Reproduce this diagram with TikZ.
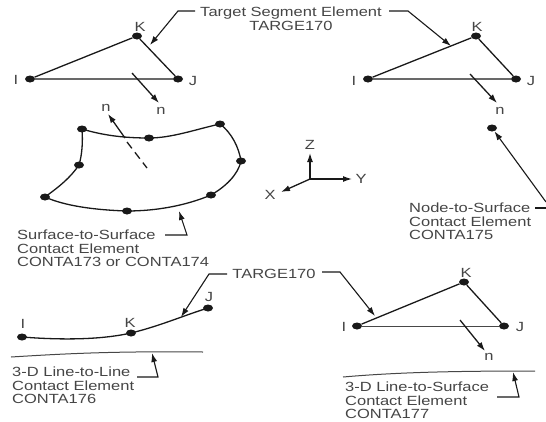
\documentclass[tikz,border=0pt]{standalone}
\usepackage{fontspec}
\setmainfont[FakeStretch=1.24]{Liberation Sans}
\usetikzlibrary{arrows.meta,shapes.geometric}
\definecolor{ink}{gray}{0.1}
\definecolor{txt}{gray}{0.27}
\tikzset{
  dot/.style={ellipse,fill=ink,draw=none,minimum width=10pt,minimum height=7pt,inner sep=0pt},
  lab/.style={text=txt,font=\fontsize{13.3}{13.2}\selectfont,inner sep=0pt},
  para/.style={lab,align=left,anchor=north west},
  ln/.style={draw=ink,line width=1.3pt},
  thinln/.style={draw=ink!80,line width=1pt},
  arrow/.style={ln,-{Latex[length=9pt,width=6pt]}},
  lead/.style={draw=ink,line width=1.1pt,-{Latex[length=9pt,width=6pt]}}
}
\begin{document}
\begin{tikzpicture}[x=1pt,y=-1pt]
\useasboundingbox (0,0) rectangle (546,421);
% top left triangle
\node[dot] (i1) at (30,79) {};
\node[dot] (k1) at (137,36) {};
\node[dot] (j1) at (178,79) {};
\draw[ln] (i1)--(k1)--(j1)--(i1);
\node[lab] (li1) at (16,80) {I};
\node[lab] (lk1) at (140,27) {K};
\node[lab] (lj1) at (193,81) {J};
\coordinate (a1) at (132,73); \coordinate (b1) at (159,103);
\draw[arrow] (a1)--(b1);
\node[lab] (n1) at (161,111) {n};
% top title
\node[lab,align=center,anchor=north] (title) at (291,7) {Target Segment Element\\TARGE170};
\coordinate (t1) at (195,11); \coordinate (t2) at (178,11); \coordinate (t3) at (150,45);
\draw[lead] (t1)--(t2)--(t3);
\coordinate (u1) at (389,11); \coordinate (u2) at (408,11); \coordinate (u3) at (451,46);
\draw[lead] (u1)--(u2)--(u3);
% surface
\node[dot] (s1) at (82,129) {};
\node[dot] (s2) at (149,138) {};
\node[dot] (s3) at (220,124) {};
\node[dot] (s4) at (241,161) {};
\node[dot] (s5) at (211,195) {};
\node[dot] (s6) at (127,211) {};
\node[dot] (s7) at (45,197) {};
\node[dot] (s8) at (79,165) {};
\draw[ln] (s1.center) .. controls (105,136) and (127,138) .. (s2.center)
  .. controls (172,138) and (197,129) .. (s3.center)
  .. controls (232,133) and (239,148) .. (s4.center)
  .. controls (238,175) and (225,187) .. (s5.center)
  .. controls (185,206) and (155,211) .. (s6.center)
  .. controls (95,210) and (65,206) .. (s7.center)
  .. controls (60,186) and (70,178) .. (s8.center)
  .. controls (82,155) and (83,142) .. (s1.center);
\coordinate (na) at (125,138); \coordinate (nb) at (108,114);
\draw[arrow] (na)--(nb);
\coordinate (da) at (127,142); \coordinate (db) at (147,168);
\draw[ln,dash pattern=on 8pt off 5pt] (da)--(db);
\node[lab] (n2) at (106,108) {n};
\node[para] (surf) at (17,230) {Surface-to-Surface\\Contact Element\\CONTA173 or CONTA174};
\coordinate (v1) at (165,235); \coordinate (v2) at (187,235); \coordinate (v3) at (179,211);
\draw[lead] (v1)--(v2)--(v3);
% top right triangle
\node[dot] (i2) at (368,79) {};
\node[dot] (k2) at (476,36) {};
\node[dot] (j2) at (516,79) {};
\draw[ln] (i2)--(k2)--(j2)--(i2);
\node[lab] (li2) at (354,81) {I};
\node[lab] (lk2) at (477,27) {K};
\node[lab] (lj2) at (531,81) {J};
\coordinate (a2) at (470,74); \coordinate (b2) at (497,103);
\draw[arrow] (a2)--(b2);
\node[lab] (n3) at (500,111) {n};
\node[dot] (p) at (492,128) {};
\coordinate (q1) at (546,208); \coordinate (q2) at (535,208); \coordinate (q3) at (546,202);
\draw[ln] (q2)--(q1);
\draw[lead] (q3)--(p);
\node[para] (nts) at (409,203) {Node-to-Surface\\Contact Element\\CONTA175};
% axes
\coordinate (o) at (310,179);
\coordinate (az) at (310,153); \coordinate (ay) at (352,179); \coordinate (ax) at (281,192);
\draw[arrow] (o)--(az); \draw[arrow] (o)--(ay); \draw[arrow] (o)--(ax);
\node[lab] (lz) at (310,145) {Z};
\node[lab] (ly) at (361,179) {Y};
\node[lab] (lx) at (270,195) {X};
% bottom left
\node[dot] (i3) at (22,337) {};
\node[dot] (k3) at (131,333) {};
\node[dot] (j3) at (208,308) {};
\draw[ln] (i3.center) .. controls (60,340) and (100,340) .. (k3.center)
  .. controls (160,326) and (185,315) .. (j3.center);
\node[lab] (li3) at (23,324) {I};
\node[lab] (lk3) at (130,323) {K};
\node[lab] (lj3) at (209,297) {J};
\node[lab] (targ) at (274,274) {TARGE170};
\coordinate (w1) at (227,274); \coordinate (w2) at (209,274); \coordinate (w3) at (181,317);
\draw[lead] (w1)--(w2)--(w3);
\coordinate (r1) at (322,272); \coordinate (r2) at (340,272); \coordinate (r3) at (375,316);
\draw[lead] (r1)--(r2)--(r3);
\coordinate (l1) at (11,357); \coordinate (l2) at (203,352);
\draw[thinln] (l1) .. controls (60,354) and (110,351) .. (l2);
\coordinate (m1) at (137,377); \coordinate (m2) at (158,377); \coordinate (m3) at (152,353);
\draw[lead] (m1)--(m2)--(m3);
\node[para] (lin) at (12,367) {3-D Line-to-Line\\Contact Element\\CONTA176};
% bottom right
\node[dot] (i4) at (357,326) {};
\node[dot] (k4) at (464,282) {};
\node[dot] (j4) at (504,326) {};
\draw[ln] (i4)--(k4)--(j4);
\draw[thinln] (i4)--(j4);
\node[lab] (li4) at (344,327) {I};
\node[lab] (lk4) at (466,273) {K};
\node[lab] (lj4) at (520,327) {J};
\coordinate (a4) at (460,320); \coordinate (b4) at (485,351);
\draw[arrow] (a4)--(b4);
\node[lab] (n4) at (489,357) {n};
\coordinate (c1) at (343,377); \coordinate (c2) at (535,371);
\draw[thinln] (c1) .. controls (400,372) and (460,371) .. (c2);
\coordinate (e1) at (497,397); \coordinate (e2) at (519,397); \coordinate (e3) at (513,372);
\draw[lead] (e1)--(e2)--(e3);
\node[para] (ls) at (345,382) {3-D Line-to-Surface\\Contact Element\\CONTA177};
\end{tikzpicture}
\end{document}
